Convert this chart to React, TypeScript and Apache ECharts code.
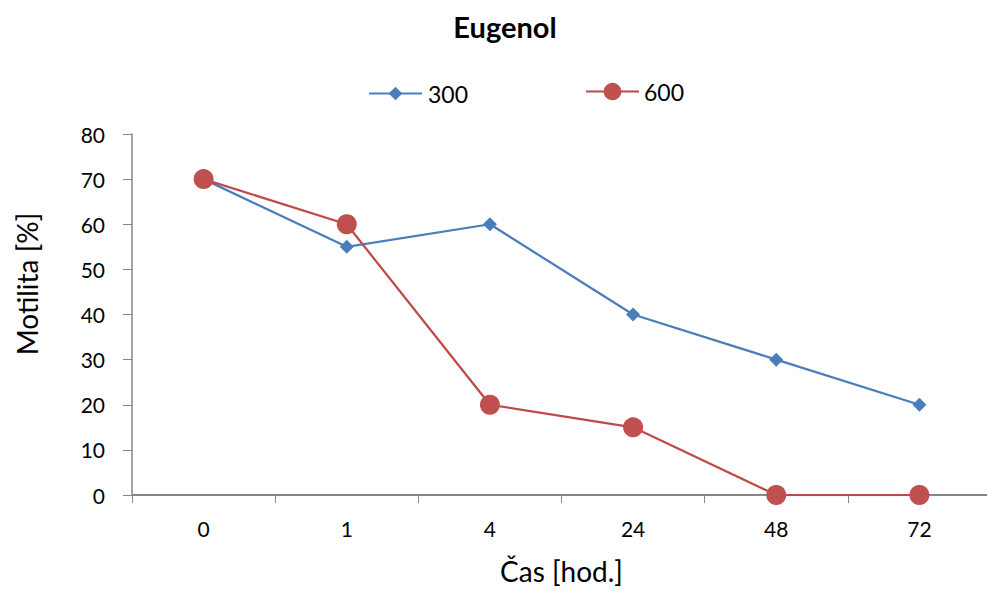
import React, { useEffect, useRef } from "react";
import * as echarts from "echarts";

const categories = ["0", "1", "4", "24", "48", "72"];
const series300 = [70, 55, 60, 40, 30, 20];
const series600 = [70, 60, 20, 15, 0, 0];
const yTicks = { min: 0, max: 80, interval: 10 };

const FONT = "Lato";
const BLUE = "#4A7EBB";
const RED = "#BE4B48";
const AXIS = "#868686";

export default function App() {
  const ref = useRef<HTMLDivElement>(null);
  useEffect(() => {
    if (!ref.current) return;
    const chart = echarts.init(ref.current, undefined, { renderer: "svg" });
    chart.setOption({
      animation: false,
      backgroundColor: "#ffffff",
      textStyle: { fontFamily: FONT },
      title: {
        text: "Eugenol",
        left: 500,
        textAlign: "center",
        top: 7,
        textStyle: { fontFamily: FONT, fontSize: 29, fontWeight: "bold", color: "#000" },
      },
      legend: [
        {
          top: 82,
          left: 368,
          padding: 0,
          itemWidth: 53,
          itemHeight: 17,
          itemGap: 10,
          textStyle: { fontFamily: FONT, fontSize: 23, color: "#000", padding: [0, 0, 0, 1] },
          data: ["300"],
        },
        {
          top: 80,
          left: 585,
          padding: 0,
          itemWidth: 53,
          itemHeight: 22,
          itemGap: 10,
          textStyle: { fontFamily: FONT, fontSize: 23, color: "#000", padding: [0, 0, 0, 0] },
          data: ["600"],
        },
      ],
      graphic: [
        {
          type: "text",
          x: 27,
          y: 284,
          rotation: Math.PI / 2,
          style: {
            text: "Motilita [%]",
            font: `28px ${FONT}`,
            fill: "#000",
            textAlign: "center",
            textVerticalAlign: "middle",
          },
        },
      ],
      grid: { left: 132, right: 0, top: 134, bottom: 94 },
      xAxis: {
        type: "category",
        data: categories,
        boundaryGap: true,
        name: "Čas [hod.]",
        nameLocation: "middle",
        nameGap: 62,
        nameTextStyle: { fontFamily: FONT, fontSize: 28, color: "#000" },
        axisLine: { show: true, lineStyle: { color: AXIS, width: 2 } },
        axisTick: { show: true, alignWithLabel: false, length: 8, lineStyle: { color: AXIS, width: 1 } },
        axisLabel: { margin: 23, fontFamily: FONT, fontSize: 21, color: "#000" },
        splitLine: { show: false },
      },
      yAxis: {
        type: "value",
        min: yTicks.min,
        max: yTicks.max,
        interval: yTicks.interval,
        axisLine: { show: true, lineStyle: { color: AXIS, width: 1.5 } },
        axisTick: { show: true, inside: false, length: 9, lineStyle: { color: AXIS, width: 1 } },
        axisLabel: { margin: 27, fontFamily: FONT, fontSize: 21, color: "#000" },
        splitLine: { show: false },
      },
      series: [
        {
          name: "300",
          type: "line",
          data: series300,
          symbol: "diamond",
          symbolSize: 14,
          itemStyle: { color: BLUE },
          lineStyle: { color: BLUE, width: 2.25 },
          z: 2,
        },
        {
          name: "600",
          type: "line",
          data: series600,
          symbol: "circle",
          symbolSize: 20,
          itemStyle: { color: "#C0504D" },
          lineStyle: { color: RED, width: 2.25 },
          z: 3,
        },
      ],
    });
    return () => chart.dispose();
  }, []);
  return (
    <div
      ref={ref}
      style={{ position: "fixed", left: 0, top: 0, width: 991, height: 590 }}
    />
  );
}
